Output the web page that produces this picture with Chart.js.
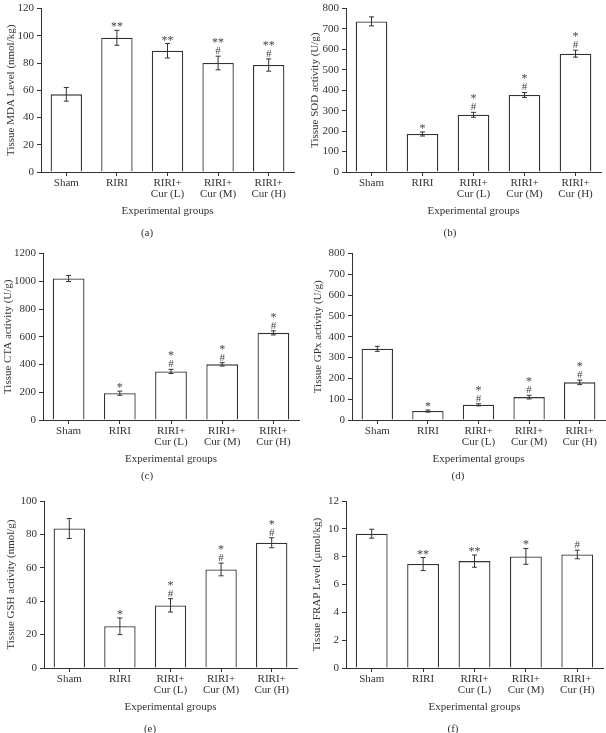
<!DOCTYPE html>
<html>
<head>
<meta charset="utf-8">
<script src="https://cdn.jsdelivr.net/npm/chart.js@4/dist/chart.umd.min.js"></script>
<style>
  body { margin: 0; background: #fff; }
  #wrap { position: relative; width: 606px; height: 733px; }
  .panel { position: absolute; }
  .letter { position: absolute; font: 11px "Liberation Serif", serif; color: #333; width: 40px; text-align: center; }
</style>
</head>
<body>
<div id="wrap"></div>
<script>
// groups on the x axis
const groups = ['Sham', 'RIRI', ['RIRI+', 'Cur (L)'], ['RIRI+', 'Cur (M)'], ['RIRI+', 'Cur (H)']];

// (a) MDA
const mdaMean = [57, 98.5, 89, 80, 78.5];
const mdaErr = [5, 5.5, 5.3, 5, 4.5];
const mdaMarks = ['', '**', '**', '**\n#', '**\n#'];
// (b) SOD
const sodMean = [737, 186, 280, 377, 579];
const sodErr = [22, 10, 12, 12, 17];
const sodMarks = ['', '*', '*\n#', '*\n#', '*\n#'];
// (c) CTA
const ctaMean = [1020, 193, 350, 401, 628];
const ctaErr = [22, 15, 15, 12, 15];
const ctaMarks = ['', '*', '*\n#', '*\n#', '*\n#'];
// (d) GPx
const gpxMean = [342, 43, 73, 110, 181];
const gpxErr = [12, 5, 5, 9, 11];
const gpxMarks = ['', '*', '*\n#', '*\n#', '*\n#'];
// (e) GSH
const gshMean = [83.5, 25, 37.5, 59, 75];
const gshErr = [6, 5, 4, 3.8, 3];
const gshMarks = ['', '*', '*\n#', '*\n#', '*\n#'];
// (f) FRAP
const frapMean = [9.65, 7.47, 7.68, 8.02, 8.16];
const frapErr = [0.32, 0.47, 0.44, 0.57, 0.31];
const frapMarks = ['', '**', '**', '*', '#'];

const yMaxes = [120, 800, 1200, 800, 100, 12];
const ySteps = [20, 100, 200, 100, 20, 2];
const yTitles = [
    'Tissue MDA Level (nmol/kg)',
    'Tissue SOD activity (U/g)',
    'Tissue CTA activity (U/g)',
    'Tissue GPx activity (U/g)',
    'Tissue GSH activity (nmol/g)',
    'Tissue FRAP Level (\u03bcmol/kg)'
];
const letters = ['(a)', '(b)', '(c)', '(d)', '(e)', '(f)'];

const means = [mdaMean, sodMean, ctaMean, gpxMean, gshMean, frapMean];
const errs = [mdaErr, sodErr, ctaErr, gpxErr, gshErr, frapErr];
const marks = [mdaMarks, sodMarks, ctaMarks, gpxMarks, gshMarks, frapMarks];

// layout of each panel on the page (tp = room left of the y title)
const layout = [
    { x: 0,   y: 0,   w: 303, h: 245, yw: 41, tp: 5, top: 5,  bottom: 172, right: 9,  lx: 147, ly: 226 },
    { x: 303, y: 0,   w: 303, h: 245, yw: 43, tp: 6, top: 5,  bottom: 172, right: 5,  lx: 147, ly: 226 },
    { x: 0,   y: 245, w: 303, h: 245, yw: 43, tp: 2, top: 7,  bottom: 175, right: 4,  lx: 147, ly: 224 },
    { x: 303, y: 245, w: 303, h: 245, yw: 49, tp: 9, top: 7,  bottom: 175, right: 1,  lx: 155, ly: 224 },
    { x: 0,   y: 490, w: 303, h: 243, yw: 44, tp: 5, top: 11, bottom: 178, right: 6,  lx: 150, ly: 232 },
    { x: 303, y: 490, w: 303, h: 243, yw: 43, tp: 8, top: 11, bottom: 178, right: 3,  lx: 150, ly: 232 }
];

const serif = '"Liberation Serif", "Times New Roman", serif';
const ink = '#333';

// error bars and significance marks
const errorBarPlugin = {
    id: 'errorBars',
    afterDatasetsDraw(chart) {
        const i = chart.options.plugins.errorBars.index;
        const ctx = chart.ctx;
        const yScale = chart.scales.y;
        const meta = chart.getDatasetMeta(0);
        ctx.save();
        ctx.strokeStyle = ink;
        ctx.lineWidth = 1;
        meta.data.forEach(function(bar, k) {
            const top = yScale.getPixelForValue(means[i][k] + errs[i][k]);
            const low = yScale.getPixelForValue(means[i][k] - errs[i][k]);
            ctx.beginPath();
            ctx.moveTo(bar.x, top);
            ctx.lineTo(bar.x, low);
            ctx.moveTo(bar.x - 2.5, top);
            ctx.lineTo(bar.x + 2.5, top);
            ctx.moveTo(bar.x - 2.5, low);
            ctx.lineTo(bar.x + 2.5, low);
            ctx.stroke();

            const lines = marks[i][k] ? marks[i][k].split('\n').reverse() : [];
            ctx.fillStyle = '#444';
            ctx.textAlign = 'center';
            ctx.textBaseline = 'alphabetic';
            lines.forEach(function(t, j) {
                const star = t.indexOf('*') >= 0;
                ctx.font = (star ? '12px ' : '11px ') + serif;
                const off = star ? 0 : 2;
                ctx.fillText(t, bar.x, top - off - j * 10);
            });
        });
        ctx.restore();
    }
};

document.addEventListener('DOMContentLoaded', function() {
    const wrap = document.getElementById('wrap');

    layout.forEach(function(L, i) {
        const box = document.createElement('div');
        box.className = 'panel';
        box.style.left = L.x + 'px';
        box.style.top = L.y + 'px';
        box.style.width = L.w + 'px';
        box.style.height = L.h + 'px';
        const canvas = document.createElement('canvas');
        canvas.width = L.w;
        canvas.height = L.h;
        box.appendChild(canvas);
        wrap.appendChild(box);

        const letter = document.createElement('div');
        letter.className = 'letter';
        letter.textContent = letters[i];
        letter.style.left = (L.x + L.lx - 20) + 'px';
        letter.style.top = (L.y + L.ly) + 'px';
        wrap.appendChild(letter);

        const xHeight = 49;
        new Chart(canvas.getContext('2d'), {
            type: 'bar',
            data: {
                labels: groups,
                datasets: [{
                    data: means[i],
                    backgroundColor: '#fff',
                    borderColor: ink,
                    borderWidth: 1.3,
                    barPercentage: 0.62,
                    categoryPercentage: 1
                }]
            },
            options: {
                responsive: false,
                animation: false,
                layout: {
                    padding: { top: L.top, right: L.right, bottom: L.h - L.bottom - xHeight, left: 0 }
                },
                plugins: {
                    legend: { display: false },
                    tooltip: { enabled: false },
                    errorBars: { index: i }
                },
                scales: {
                    x: {
                        grid: { offset: false, drawOnChartArea: false, tickLength: 4, color: ink },
                        border: { color: ink, width: 1 },
                        ticks: { color: ink, font: { family: serif, size: 11, lineHeight: 1.0 }, padding: 2, maxRotation: 0, autoSkip: false },
                        title: { display: true, text: 'Experimental groups', color: ink, font: { family: serif, size: 11 }, padding: { top: 4, bottom: 3 } },
                        afterFit: function(scale) { scale.height = xHeight; }
                    },
                    y: {
                        min: 0,
                        max: yMaxes[i],
                        grid: { drawOnChartArea: false, tickLength: 4, color: ink },
                        border: { color: ink, width: 1 },
                        ticks: {
                            stepSize: ySteps[i],
                            color: ink,
                            font: { family: serif, size: 11, lineHeight: 1.0 },
                            padding: 3,
                            callback: function(v) { return String(v); }
                        },
                        title: { display: true, text: yTitles[i], color: ink, font: { family: serif, size: 11 }, padding: { top: L.tp, bottom: 2 } },
                        afterFit: function(scale) { scale.width = L.yw; }
                    }
                }
            },
            plugins: [errorBarPlugin]
        });
    });
});
</script>
</body>
</html>
